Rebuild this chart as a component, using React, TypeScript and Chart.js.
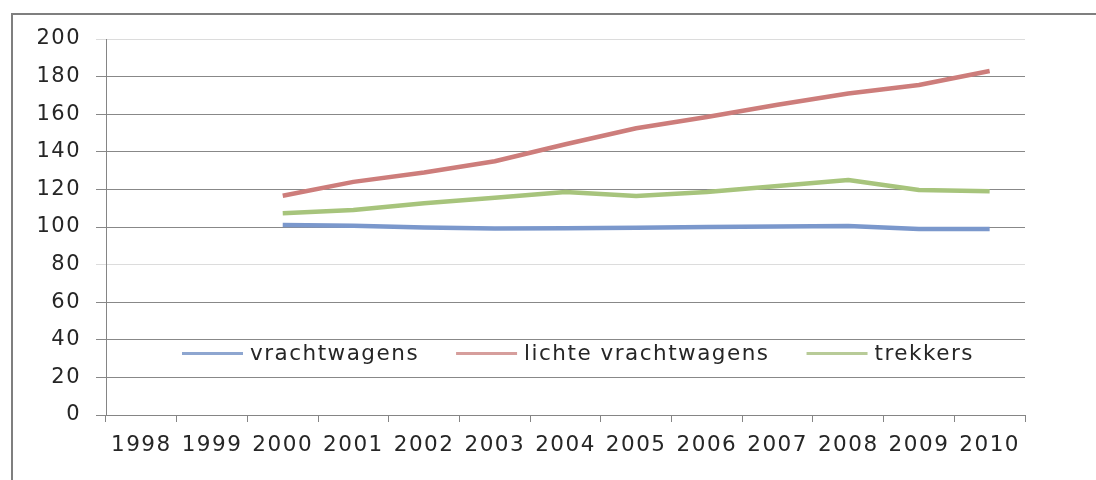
import React, { useEffect, useRef } from "react";
import { Chart, registerables } from "chart.js";

Chart.register(...registerables);

const years = ["1998", "1999", "2000", "2001", "2002", "2003", "2004", "2005", "2006", "2007", "2008", "2009", "2010"];
const vrachtwagens = [null, null, 101, 100.7, 99.8, 99.2, 99.3, 99.6, 100, 100.3, 100.5, 99, 98.9];
const lichteVrachtwagens = [null, null, 116.6, 124, 129, 135, 144, 152.5, 158.5, 165, 171, 175.5, 183];
const trekkers = [null, null, 107.3, 109, 112.6, 115.5, 118.6, 116.5, 118.6, 121.8, 125, 119.7, 119];
const seriesLabels = ["vrachtwagens", "lichte vrachtwagens", "trekkers"];
const yMin = 0;
const yMax = 200;
const yStep = 20;
const fadedGridValues = [200, 80];

const FONT_FAMILY = '"DejaVu Sans", sans-serif';
const TEXT_COLOR = "#262626";
const LINE_COLORS = ["#7b98cc", "#cd7d7b", "#a7c47c"];
const LEGEND_COLORS = ["#8ea6d0", "#d69e9c", "#b8cb98"];
const SPACING = "1.5px";

const frameAndSpacingPlugin = {
  id: "frameAndSpacing",
  beforeDraw(chart: any) {
    const ctx = chart.ctx;
    ctx.save();
    ctx.fillStyle = "#ffffff";
    ctx.fillRect(0, 0, chart.width, chart.height);
    ctx.strokeStyle = "#7f7f7f";
    ctx.lineWidth = 2;
    ctx.strokeRect(12, 14, 1300, 700);
    ctx.restore();
    ctx.letterSpacing = SPACING;
  },
};

const inlineLegendPlugin = {
  id: "inlineLegend",
  afterDatasetsDraw(chart: any) {
    const { ctx, chartArea, scales } = chart;
    const y = Math.round(scales.y.getPixelForValue(33)) + 0.5;
    let x = chartArea.left + 76;
    ctx.save();
    ctx.font = `21.5px ${FONT_FAMILY}`;
    ctx.letterSpacing = SPACING;
    ctx.textBaseline = "middle";
    ctx.textAlign = "left";
    chart.data.datasets.forEach((ds: any, i: number) => {
      ctx.strokeStyle = LEGEND_COLORS[i];
      ctx.lineWidth = 3;
      ctx.beginPath();
      ctx.moveTo(x, y);
      ctx.lineTo(x + 61, y);
      ctx.stroke();
      x += 68;
      ctx.fillStyle = TEXT_COLOR;
      ctx.fillText(ds.label, x, y + 1);
      x += ctx.measureText(ds.label).width + 37;
    });
    ctx.restore();
  },
};

export default function App() {
  const canvasRef = useRef<HTMLCanvasElement | null>(null);

  useEffect(() => {
    const canvas = canvasRef.current;
    if (!canvas) return;
    const seriesData = [vrachtwagens, lichteVrachtwagens, trekkers];
    const chart = new Chart(canvas, {
      type: "line",
      data: {
        labels: years,
        datasets: seriesData.map((d, i) => ({
          label: seriesLabels[i],
          data: d,
          borderColor: LINE_COLORS[i],
          backgroundColor: LINE_COLORS[i],
          borderWidth: 4.5,
          pointRadius: 0,
          tension: 0,
          borderJoinStyle: "round",
          fill: false,
        })),
      },
      options: {
        responsive: false,
        animation: false,
        devicePixelRatio: 1,
        layout: { padding: { top: 39, right: 71, bottom: 0, left: 0 } },
        plugins: {
          legend: { display: false },
          tooltip: { enabled: false },
          title: { display: false },
        },
        scales: {
          x: {
            type: "category",
            offset: true,
            afterFit: (scale: any) => {
              scale.height = 65;
            },
            grid: {
              offset: true,
              drawOnChartArea: false,
              drawTicks: true,
              tickLength: 7,
              color: "#858585",
              lineWidth: 1,
            },
            border: { color: "#858585", width: 1 },
            ticks: {
              autoSkip: false,
              maxRotation: 0,
              minRotation: 0,
              padding: 11,
              color: TEXT_COLOR,
              font: { family: FONT_FAMILY, size: 21.5 },
            },
          },
          y: {
            min: yMin,
            max: yMax,
            afterFit: (scale: any) => {
              scale.width = 106;
            },
            grid: {
              color: (c: any) =>
                c.tick && fadedGridValues.includes(c.tick.value) ? "#dcdcdc" : "#888888",
              lineWidth: 1,
              tickLength: 10,
              drawTicks: true,
            },
            border: { color: "#858585", width: 1 },
            ticks: {
              stepSize: yStep,
              padding: 15,
              color: TEXT_COLOR,
              font: { family: FONT_FAMILY, size: 21 },
            },
          },
        },
      },
      plugins: [frameAndSpacingPlugin, inlineLegendPlugin],
    } as any);
    return () => chart.destroy();
  }, []);

  return (
    <div style={{ position: "fixed", left: 0, top: 0, width: 1096, height: 480, background: "#fff" }}>
      <canvas ref={canvasRef} width={1096} height={480} style={{ display: "block", width: 1096, height: 480 }} />
    </div>
  );
}
